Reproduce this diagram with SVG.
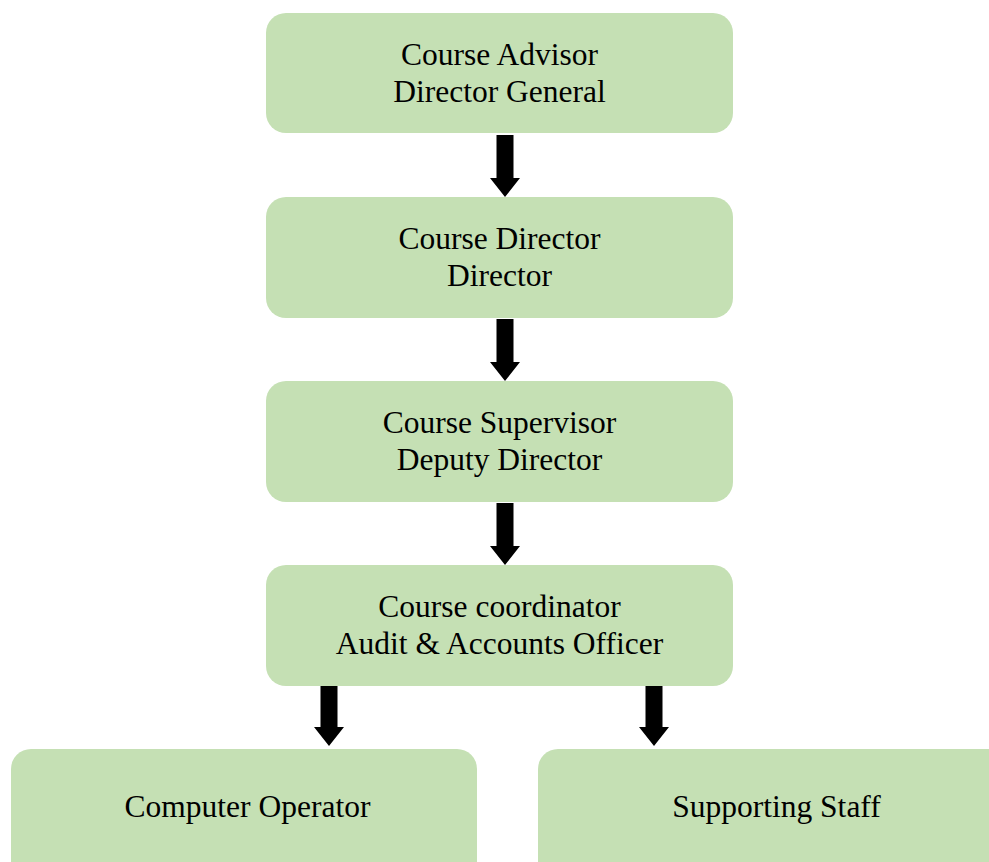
<svg xmlns="http://www.w3.org/2000/svg" width="989" height="862" viewBox="0 0 989 862">
  <style>
    .box { fill: #C5E0B4; }
    .label { font-family: "Liberation Serif", "Times New Roman", serif; font-size: 31.5px; fill: #000; text-anchor: middle; }
    .arrow { fill: #000; }
  </style>
  <defs>
    <!-- block down-arrow: shaft 17 wide, head 30 wide, 62 tall overall; origin at tip -->
    <path id="down" d="M -8.5 -62 H 8.5 V -19 H 15 L 0 0 L -15 -19 H -8.5 Z"/>
  </defs>
  <rect width="989" height="862" fill="#fff"/>

  <g id="connectors" class="arrow">
    <use href="#down" x="505" y="197"/>
    <use href="#down" x="505" y="381"/>
    <use href="#down" x="505" y="565"/>
    <use href="#down" x="329" y="746"/>
    <use href="#down" x="654" y="746"/>
  </g>

  <g id="course-advisor">
    <rect class="box" x="266" y="13" width="467" height="120" rx="20"/>
    <text class="label" x="499.5" y="65">Course Advisor</text>
    <text class="label" x="499.5" y="102">Director General</text>
  </g>

  <g id="course-director">
    <rect class="box" x="266" y="197" width="467" height="121" rx="20"/>
    <text class="label" x="499.5" y="249">Course Director</text>
    <text class="label" x="499.5" y="286">Director</text>
  </g>

  <g id="course-supervisor">
    <rect class="box" x="266" y="381" width="467" height="121" rx="20"/>
    <text class="label" x="499.5" y="433">Course Supervisor</text>
    <text class="label" x="499.5" y="470">Deputy Director</text>
  </g>

  <g id="course-coordinator">
    <rect class="box" x="266" y="565" width="467" height="121" rx="20"/>
    <text class="label" x="499.5" y="617">Course coordinator</text>
    <text class="label" x="499.5" y="654">Audit &amp; Accounts Officer</text>
  </g>

  <g id="computer-operator">
    <rect class="box" x="11" y="749" width="466" height="140" rx="20"/>
    <text class="label" x="247.5" y="817">Computer Operator</text>
  </g>

  <g id="supporting-staff">
    <rect class="box" x="538" y="749" width="477" height="140" rx="20"/>
    <text class="label" x="776.5" y="817">Supporting Staff</text>
  </g>
</svg>
